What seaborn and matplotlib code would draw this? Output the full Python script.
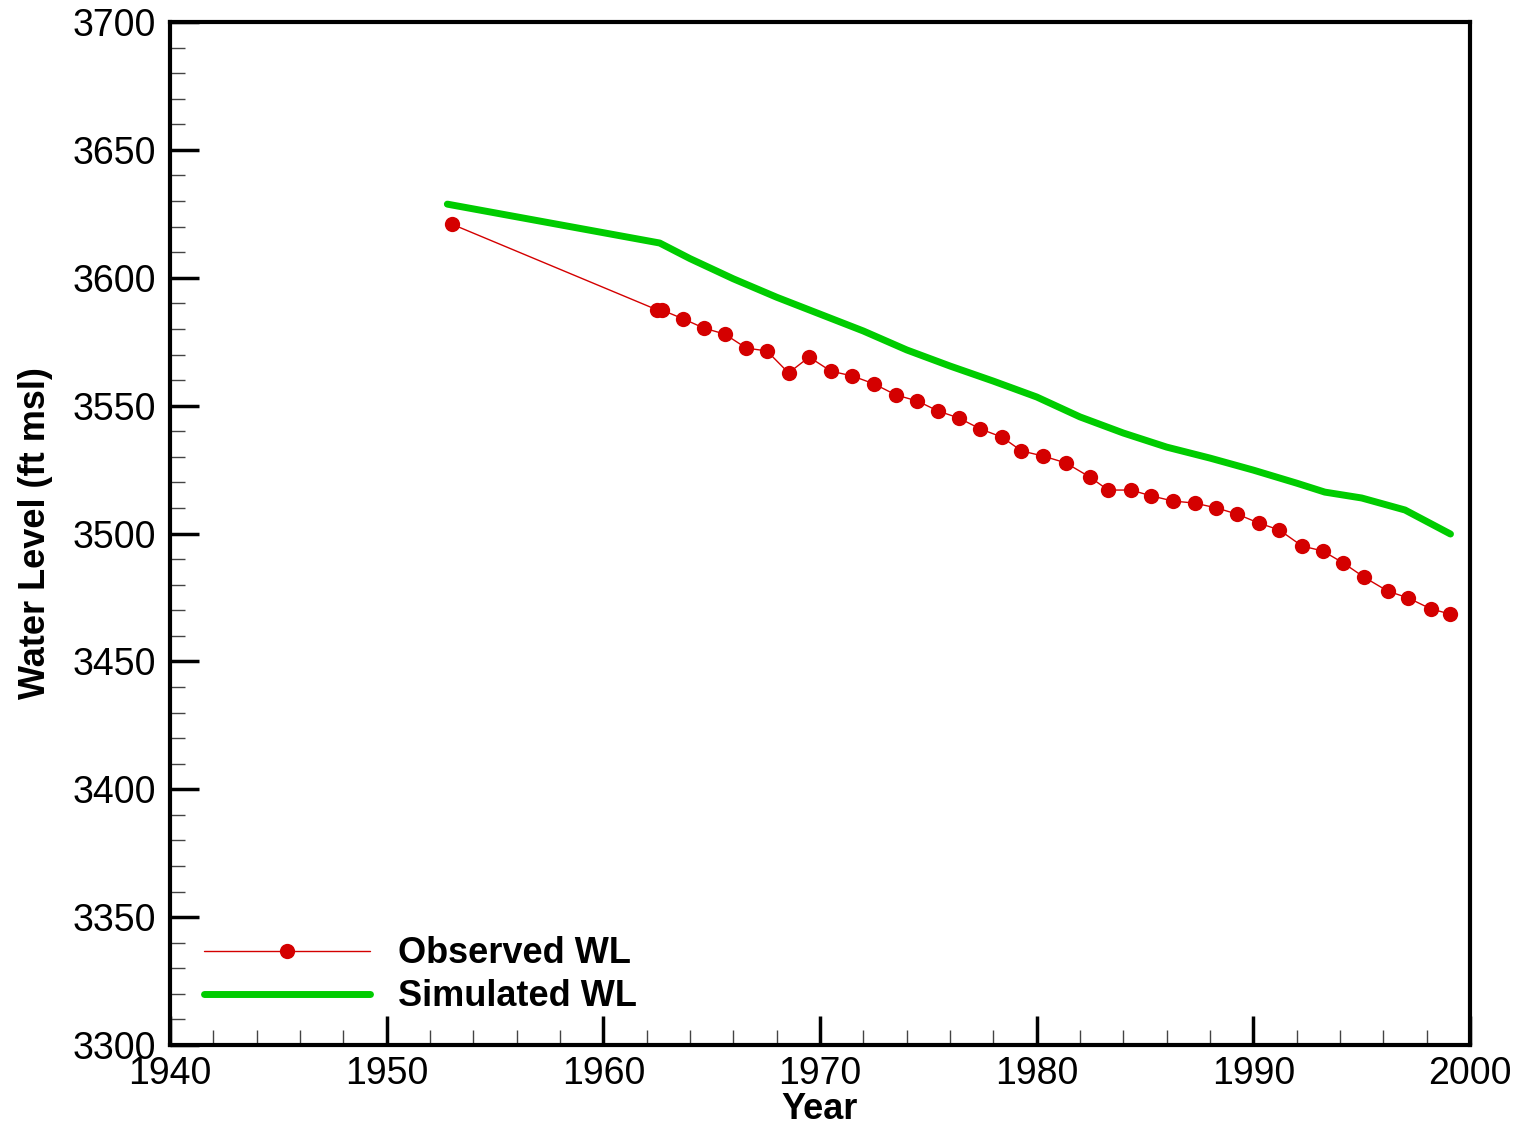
import matplotlib
matplotlib.use("Agg")
import matplotlib.pyplot as plt
import pandas as pd
import numpy as np
import seaborn as sns
from matplotlib.ticker import MultipleLocator

sns.set_style("ticks")
plt.rcParams['font.family'] = ['Liberation Sans', 'DejaVu Sans']
plt.rcParams['text.color'] = 'black'
plt.rcParams['axes.labelcolor'] = 'black'
plt.rcParams['xtick.color'] = 'black'
plt.rcParams['ytick.color'] = 'black'

# observed water levels
obs_year = [1953.0, 1962.5, 1962.7, 1963.7, 1964.65, 1965.6, 1966.6, 1967.55, 1968.55, 1969.5,
            1970.5, 1971.5, 1972.5, 1973.5, 1974.5, 1975.45, 1976.4, 1977.4, 1978.4, 1979.3,
            1980.3, 1981.35, 1982.45, 1983.3, 1984.35, 1985.3, 1986.3, 1987.3, 1988.3, 1989.25,
            1990.25, 1991.2, 1992.25, 1993.2, 1994.15, 1995.1, 1996.2, 1997.15, 1998.2, 1999.1]
obs_wl = [3621.0, 3587.4, 3587.4, 3583.9, 3580.3, 3578.0, 3572.5, 3571.4, 3562.8, 3569.0,
          3563.5, 3561.6, 3558.5, 3554.2, 3551.8, 3547.9, 3545.2, 3540.9, 3537.7, 3532.3,
          3530.3, 3527.6, 3522.1, 3517.0, 3517.0, 3514.7, 3512.7, 3511.9, 3510.0, 3507.6,
          3504.1, 3501.4, 3495.1, 3493.2, 3488.5, 3483.0, 3477.5, 3474.8, 3470.5, 3468.5]

# simulated water levels
sim_year = [1952.8, 1962.6, 1964, 1966, 1968, 1970, 1972, 1974, 1976, 1978, 1980,
            1982, 1984, 1986, 1988, 1990, 1992, 1993.3, 1995, 1997, 1999.1]
sim_wl = [3628.8, 3613.6, 3607.5, 3599.6, 3592.4, 3585.8, 3579.2, 3571.8, 3565.5, 3559.6, 3553.4,
          3545.6, 3539.3, 3533.8, 3529.5, 3524.8, 3519.7, 3516.2, 3513.9, 3509.2, 3499.8]

obs = pd.DataFrame({'Year': obs_year, 'WL': obs_wl})
sim = pd.DataFrame({'Year': sim_year, 'WL': sim_wl})

fig = plt.figure(figsize=(15.26, 11.25), dpi=100)
ax = fig.add_axes([0.1114, 0.0711, 0.8519, 0.9093])

sns.lineplot(data=obs, x='Year', y='WL', ax=ax, color='#d40000', lw=1.0,
             marker='o', markersize=11, markeredgewidth=0, label='Observed WL',
             sort=False, estimator=None)
sns.lineplot(data=sim, x='Year', y='WL', ax=ax, color='#00cc00', lw=5,
             label='Simulated WL', sort=False, estimator=None)

ax.set_xlim(1940, 2000)
ax.set_ylim(3300, 3700)
ax.xaxis.set_major_locator(MultipleLocator(10))
ax.xaxis.set_minor_locator(MultipleLocator(2))
ax.yaxis.set_major_locator(MultipleLocator(50))
ax.yaxis.set_minor_locator(MultipleLocator(10))
ax.tick_params(which='major', direction='in', length=21, width=2.5, labelsize=27, pad=10)
ax.tick_params(which='minor', direction='in', length=11, width=1.0, color='#444444')
ax.tick_params(axis='x', which='major', pad=8)
for s in ax.spines.values():
    s.set_linewidth(3)
    s.set_color('black')

ax.set_xlabel('Year', fontsize=26, fontweight='bold', labelpad=0)
ax.set_ylabel('Water Level (ft msl)', fontsize=26, fontweight='bold', labelpad=14)

ax.legend(loc='lower left', bbox_to_anchor=(0.026, 0.03), frameon=False,
          borderaxespad=0, borderpad=0,
          prop={'size': 26, 'weight': 'bold'}, handlelength=4.6, handletextpad=0.78,
          labelspacing=0.22)

fig.savefig('out.png', dpi=100)
